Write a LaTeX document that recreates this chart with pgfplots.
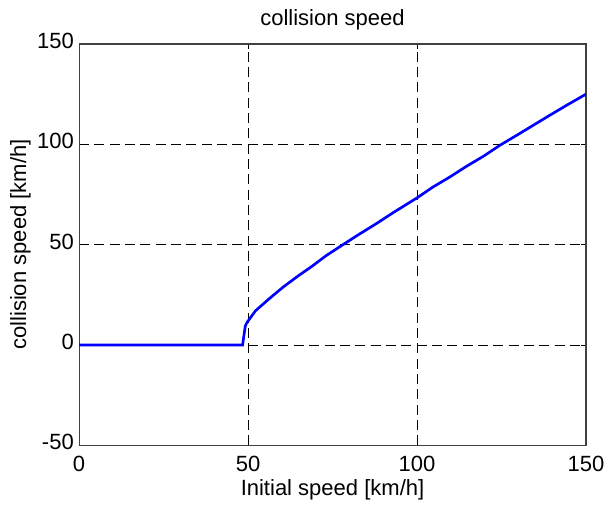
\documentclass[border=0pt]{standalone}
\usepackage{pgfplots}
\pgfplotsset{compat=1.18}
\usepackage{fontspec}
\setmainfont{Liberation Sans}

\begin{document}
\fontsize{16.5}{19}\selectfont
\begin{tikzpicture}
\useasboundingbox (-59.25pt,-44.25pt) rectangle (396.5pt,333.75pt);
\begin{axis}[
    at={(0,0)}, anchor=south west,
    scale only axis, width=380pt, height=300.75pt,
    xmin=0, xmax=150, ymin=-50, ymax=150,
    xtick={0,50,100,150}, ytick={-50,0,50,100,150},
    tick align=inside, major tick length=4pt,
    tick style={black, line width=0.6pt},
    axis line style={black!75, line width=0.8pt},
    grid=major,
    major grid style={black, dash pattern=on 7.5pt off 4pt, line width=0.65pt},
    /pgf/number format/assume math mode=true,
    ticklabel style={font=\fontsize{16.5}{19}\selectfont, inner sep=0pt},
    xticklabel style={anchor=north, yshift=-8pt},
    yticklabel style={anchor=east, xshift=-3.75pt, yshift=2.25pt},
    title={collision speed},
    title style={at={(axis description cs:0.5,1.025)}, anchor=base, inner sep=0pt, font=\fontsize{16.5}{19}\selectfont},
    xlabel={Initial speed [km/h]},
    xlabel style={at={(axis description cs:0.5,-0.1247)}, anchor=base, inner sep=0pt, font=\fontsize{16.5}{19}\selectfont},
    ylabel={collision speed [km/h]},
    ylabel style={at={(axis description cs:-0.1046,0.5)}, rotate=0, anchor=base, inner sep=0pt, font=\fontsize{16.5}{19}\selectfont},
]
\addplot[color={rgb,255:red,0;green,0;blue,255}, line width=2pt] coordinates {
    (0,0) (48.4,0) (48.7,3.7) (49.2,9.5) (49.7,11.2) (52.2,17) (56.1,22.8)
    (60.5,29) (65,34.6) (69,39.3) (73.1,44.5) (78.1,50) (83,55.3) (88,60.5)
    (93,66) (100,73.3) (104.7,78.7) (109.7,83.7) (114.6,89) (119.6,94)
    (124.5,99.5) (129.5,104.5) (134.4,109.5) (139.3,114.5) (144.3,119.5) (150,125)
};
\end{axis}
\end{tikzpicture}
\end{document}
